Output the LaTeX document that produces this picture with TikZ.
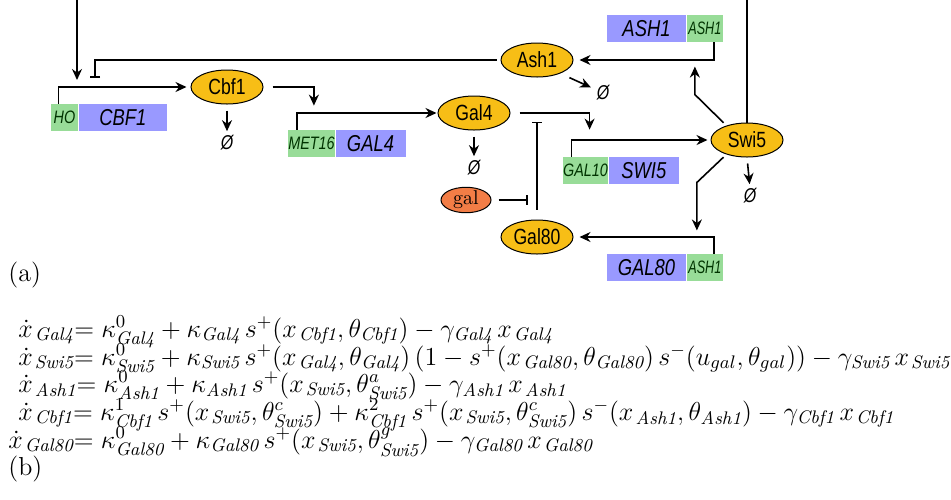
\RequirePackage{fix-cm}
\documentclass[tikz,border=0pt]{standalone}
\usepackage{amsmath}
\usepackage{amssymb}
\usepackage{fontspec}
\newfontfamily\narrowsf[FakeStretch=0.8]{Liberation Sans}
\newfontfamily\narrowersf[FakeStretch=0.7]{Liberation Sans}
\usepackage{tikz}
\usetikzlibrary{arrows,arrows.meta,shapes.geometric,positioning}

\definecolor{protfill}{RGB}{247,190,22}
\definecolor{galfill}{RGB}{242,125,70}
\definecolor{genefill}{RGB}{153,153,255}
\definecolor{promfill}{RGB}{152,220,152}
\definecolor{promtext}{RGB}{0,51,0}

\newcommand{\gn}[1]{\mathit{#1}}
\newcommand{\xv}[1]{x_{\mkern2mu\mathit{#1}}}
\newcommand{\dxv}[1]{\dot{x}_{\mkern2mu\mathit{#1}}}

\begin{document}
\begin{tikzpicture}[x=0.5pt,y=-0.5pt,
		prot/.style={ellipse,draw=black,line width=0.5pt,fill=protfill,inner sep=0pt,
			minimum width=36pt,minimum height=17pt,font=\narrowsf\fontsize{11}{13}\selectfont},
		sugar/.style={ellipse,draw=black,line width=0.5pt,fill=galfill,inner sep=0pt,
			minimum width=25pt,minimum height=12pt,font=\fontsize{10}{12}\selectfont},
		gene/.style={fill=genefill,inner sep=0pt,minimum height=13.5pt,
			font=\narrowsf\itshape\fontsize{11.5}{13}\selectfont},
		prom/.style={fill=promfill,text=promtext,inner sep=0pt,minimum height=13.5pt,
			font=\narrowsf\itshape\fontsize{9}{10}\selectfont},
		promsmall/.style={prom,font=\narrowersf\itshape\fontsize{9}{10}\selectfont},
		nil/.style={inner sep=0pt,font=\narrowsf\itshape\fontsize{10}{12}\selectfont},
		act/.style={-{Stealth[length=5.5pt,width=5pt]},line width=0.8pt},
		inh/.style={-{Bar[width=5pt]},line width=0.8pt},
		lbl/.style={anchor=base west,inner sep=0pt,font=\fontsize{13}{15}\selectfont}
	]
	\useasboundingbox (0,0) rectangle (951,499);

	% genes: promoter + coding part
	\node[prom,minimum width=13.5pt] (ho) at (64.5,117.5) {HO};
	\node[gene,minimum width=44pt,right=0pt of ho] (cbf1g) {CBF1};
	\node[prom,minimum width=22.5pt] (met16) at (311.5,143.5) {MET16};
	\node[gene,minimum width=35pt,right=0pt of met16] (gal4g) {GAL4};
	\node[prom,minimum width=22.5pt] (gal10) at (585.5,170.5) {GAL10};
	\node[gene,minimum width=35pt,right=0pt of gal10] (swi5g) {SWI5};
	\node[gene,minimum width=39.5pt] (ash1g) at (646.5,28.5) {ASH1};
	\node[promsmall,minimum width=18pt,right=0pt of ash1g] (ash1p) {ASH1};
	\node[gene,minimum width=39.5pt] (gal80g) at (646.5,267.5) {GAL80};
	\node[promsmall,minimum width=18pt,right=0pt of gal80g] (ash1q) {ASH1};

	% proteins
	\node[prot] (cbf1) at (227,87) {Cbf1};
	\node[prot] (gal4) at (474,113) {Gal4};
	\node[prot] (ash1) at (537,60) {Ash1};
	\node[prot] (swi5) at (747,140) {Swi5};
	\node[prot] (gal80) at (537,237) {Gal80};
	\node[sugar] (galn) at (466,200) {gal};

	\node[nil] (n1) at (227,143) {Ø};
	\node[nil] (n2) at (474,168) {Ø};
	\node[nil] (n3) at (603,93) {Ø};
	\node[nil] (n4) at (750,196) {Ø};

	\coordinate (topl) at (77,0);
	\coordinate (topr) at (748,0);
	\coordinate (hoinh) at (95,78);

	% Swi5 feeds back to HO across the top
	\draw[act] (topl) -- ++(0,-40pt);
	\draw[line width=0.8pt] (swi5.north) -- (swi5.north |- topr);
	\draw[inh,shorten <=2pt] (ash1.west) -| (hoinh);

	\draw[act,shorten >=2pt] ([xshift=4pt]ho.north west) |- (cbf1.west);
	\draw[act,shorten <=3pt,shorten >=2pt] (cbf1.south) -- (n1.north);
	\draw[act,shorten <=4.5pt] (cbf1.east) -| ([xshift=13pt,yshift=12pt]met16.north west);

	\draw[act,shorten >=0.5pt] ([xshift=4.5pt]met16.north west) |- (gal4.west);
	\draw[act,shorten <=3pt,shorten >=2pt] (gal4.south) -- (n2.north);
	\draw[act,shorten <=4.5pt] (gal4.east) -| ([xshift=13.5pt,yshift=13.5pt]gal10.north west);

	\draw[act,shorten >=1.5pt] ([xshift=4.5pt]gal10.north west) |- (swi5.west);
	\draw[act,shorten <=3pt,shorten >=2pt] (swi5.south) -- (n4.north);
	\draw[act,shorten <=2pt] (swi5.145) -- ++(-15.75pt,15.5pt) -- ++(0,14pt);
	\draw[act,shorten <=2pt] (swi5.-145) -- ++(-14.75pt,-14pt) -- ++(0,-24pt);

	\draw[act,shorten >=3pt] ([xshift=-4.5pt]ash1p.south east) |- (ash1.east);
	\draw[act,shorten <=5pt,shorten >=3pt] (ash1.-30) -- (n3.155);
	\draw[act,shorten >=3pt] ([xshift=-4.5pt]ash1q.north east) |- (gal80.east);

	\draw[inh,shorten <=5pt] (gal80.north) -- ++(0,49pt) coordinate (g80top);
	\draw[inh,shorten <=3.5pt] (galn.east) -- ([xshift=-4.5pt]galn.east -| g80top);

	% labels and equations
	\node[lbl] (la) at (8,281) {(a)};
	\node[lbl] (eq1) at (18,337) {$\dxv{Gal4}{=}\;\kappa^0_{\gn{Gal4}}+\kappa_{\gn{Gal4}}\,s^+(\xv{Cbf1},\theta_{\gn{Cbf1}})-\gamma_{\gn{Gal4}}\,\xv{Gal4}$};
	\node[lbl] (eq2) at (18,365) {$\dxv{Swi5}{=}\;\kappa^0_{\gn{Swi5}}+\kappa_{\gn{Swi5}}\,s^+(\xv{Gal4},\theta_{\gn{Gal4}})\,(1-s^+(\xv{Gal80},\theta_{\gn{Gal80}})\,s^-(u_{gal},\theta_{gal}))-\gamma_{\gn{Swi5}}\,\xv{Swi5}$};
	\node[lbl] (eq3) at (18,392) {$\dxv{Ash1}{=}\;\kappa^0_{\gn{Ash1}}+\kappa_{\gn{Ash1}}\,s^+(\xv{Swi5},\theta^a_{\gn{Swi5}})-\gamma_{\gn{Ash1}}\,\xv{Ash1}$};
	\node[lbl] (eq4) at (18,420) {$\dxv{Cbf1}{=}\;\kappa^1_{\gn{Cbf1}}\,s^+(\xv{Swi5},\theta^c_{\gn{Swi5}})+\kappa^2_{\gn{Cbf1}}\,s^+(\xv{Swi5},\theta^c_{\gn{Swi5}})\,s^-(\xv{Ash1},\theta_{\gn{Ash1}})-\gamma_{\gn{Cbf1}}\,\xv{Cbf1}$};
	\node[lbl] (eq5) at (8,448) {$\dxv{Gal80}{=}\;\kappa^0_{\gn{Gal80}}+\kappa_{\gn{Gal80}}\,s^+(\xv{Swi5},\theta^g_{\gn{Swi5}})-\gamma_{\gn{Gal80}}\,\xv{Gal80}$};
	\node[lbl] (lb) at (8,475) {(b)};
\end{tikzpicture}
\end{document}
